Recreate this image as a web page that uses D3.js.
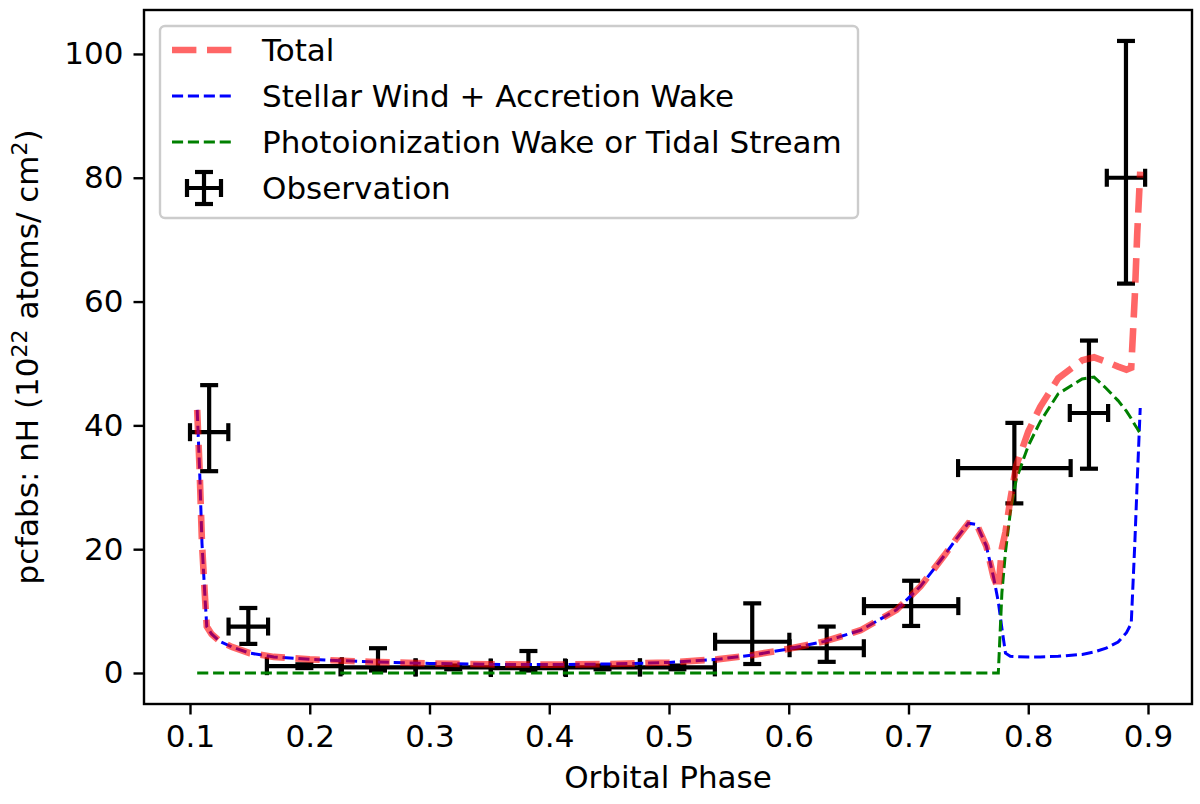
<!DOCTYPE html>
<html>
<head>
<meta charset="utf-8">
<script src="https://cdn.jsdelivr.net/npm/d3@7"></script>
<style>
  html, body { margin: 0; padding: 0; background: #fff; }
  svg { display: block; font-family: "DejaVu Sans", sans-serif; }
</style>
</head>
<body>
<svg id="chart" width="1200" height="804"></svg>
<script>
// model curves, all sampled on the same phase grid
const phase = [0.106, 0.108, 0.110, 0.1125, 0.114, 0.118, 0.125, 0.135, 0.15, 0.17,
  0.2, 0.25, 0.3, 0.35, 0.4, 0.45, 0.5, 0.54, 0.57, 0.6,
  0.63, 0.66, 0.69, 0.71, 0.73, 0.74, 0.75, 0.757, 0.765, 0.771,
  0.775, 0.778, 0.781, 0.785, 0.79, 0.8, 0.81, 0.825, 0.845, 0.855,
  0.865, 0.875, 0.882, 0.886, 0.889, 0.891, 0.8935];

const totalNH = [42.5, 33, 21, 12.3, 7.5, 6.3, 5.1, 4.2, 3.2, 2.6,
  2.2, 1.8, 1.55, 1.4, 1.35, 1.45, 1.7, 2.2, 2.9, 3.9,
  5.1, 6.9, 10.2, 14.0, 19.0, 21.7, 24.2, 24.0, 20.5, 15.5,
  13.5, 20.2, 22.8, 28.0, 33.5, 39.0, 43.0, 47.6, 50.5, 51.0,
  50.3, 49.5, 49.0, 49.3, 61, 71, 81];

const windNH = [42.5, 33, 21, 12.3, 7.5, 6.3, 5.1, 4.2, 3.2, 2.6,
  2.2, 1.8, 1.55, 1.4, 1.35, 1.45, 1.7, 2.2, 2.9, 3.9,
  5.1, 6.9, 10.2, 14.0, 19.0, 21.7, 24.2, 24.0, 20.5, 15.5,
  11.5, 7.2, 3.2, 2.7, 2.65, 2.6, 2.6, 2.7, 3.0, 3.4,
  4.0, 5.0, 6.5, 8.0, 21, 31, 42.8];

const photoNH = [0, 0, 0, 0, 0, 0, 0, 0, 0, 0,
  0, 0, 0, 0, 0, 0, 0, 0, 0, 0,
  0, 0, 0, 0, 0, 0, 0, 0, 0, 0,
  0, 13, 19.6, 25.9, 31.3, 36.7, 40.6, 45.1, 47.5, 47.8,
  46.0, 44.0, 42.3, 41.1, 40.1, 39.5, 38.7];

// observations
const obsPhase    = [0.116, 0.1487, 0.1955, 0.257, 0.3198, 0.3826, 0.4445, 0.507, 0.5695, 0.6317, 0.7022, 0.7884, 0.8507, 0.8816];
const obsPhaseErr = [0.016, 0.0165, 0.0313, 0.0313, 0.0313, 0.0313, 0.0313, 0.0313, 0.031, 0.031, 0.0394, 0.047, 0.016, 0.016];
const obsNH       = [38.9, 7.5, 1.1, 0.9, 0.9, 0.8, 0.9, 0.9, 5.05, 4.0, 10.8, 33.1, 42.0, 80.0];
const obsNHLow    = [6.3, 2.8, 0.3, 0.5, 0.3, 0.4, 0.3, 0.3, 3.6, 2.2, 3.2, 5.7, 9.0, 17.1];
const obsNHHigh   = [7.6, 3.0, 0.3, 3.1, 0.3, 2.75, 0.3, 0.3, 6.2, 3.5, 4.1, 7.3, 11.7, 22.1];

const xTicks = [0.1, 0.2, 0.3, 0.4, 0.5, 0.6, 0.7, 0.8, 0.9];
const yTicks = [0, 20, 40, 60, 80, 100];

const legendLabels = ["Total", "Stellar Wind + Accretion Wake", "Photoionization Wake or Tidal Stream", "Observation"];

const fs = 31;
const box = { left: 144, right: 1192, top: 10, bottom: 704 };

const svg = d3.select("#chart");
svg.append("rect").attr("width", 1200).attr("height", 804).attr("fill", "#fff");

const x = d3.scaleLinear().domain([0.06159, 0.93674]).range([box.left, box.right]);
const y = d3.scaleLinear().domain([-5.01, 107.1]).range([box.bottom, box.top]);

svg.append("clipPath").attr("id", "clip")
  .append("rect")
  .attr("x", box.left).attr("y", box.top)
  .attr("width", box.right - box.left).attr("height", box.bottom - box.top);

const plot = svg.append("g").attr("clip-path", "url(#clip)");

// error bars
const cap = 9;
const eb = plot.append("g").attr("stroke", "#000").attr("stroke-width", 4.2).attr("fill", "none");
obsPhase.forEach((p, i) => {
  const cx = x(p), cy = y(obsNH[i]);
  const x0 = x(p - obsPhaseErr[i]), x1 = x(p + obsPhaseErr[i]);
  const y0 = y(obsNH[i] - obsNHLow[i]), y1 = y(obsNH[i] + obsNHHigh[i]);
  eb.append("line").attr("x1", x0).attr("x2", x1).attr("y1", cy).attr("y2", cy);
  eb.append("line").attr("x1", cx).attr("x2", cx).attr("y1", y0).attr("y2", y1);
  eb.append("line").attr("x1", x0).attr("x2", x0).attr("y1", cy - cap).attr("y2", cy + cap);
  eb.append("line").attr("x1", x1).attr("x2", x1).attr("y1", cy - cap).attr("y2", cy + cap);
  eb.append("line").attr("x1", cx - cap).attr("x2", cx + cap).attr("y1", y0).attr("y2", y0);
  eb.append("line").attr("x1", cx - cap).attr("x2", cx + cap).attr("y1", y1).attr("y2", y1);
});

const line = d3.line().x(d => x(d[0])).y(d => y(d[1]));

const series = [
  { vals: windNH,  color: "#0000ff", width: 3, dash: "11.1,4.8", opacity: 1 },
  { vals: photoNH, color: "#008000", width: 3, dash: "11.1,4.8", opacity: 1 },
  { vals: totalNH, color: "#ff0000", width: 6.6, dash: "24.4,10.6", opacity: 0.6 },
];

series.forEach(s => {
  plot.append("path")
    .datum(phase.map((p, i) => [p, s.vals[i]]))
    .attr("d", line)
    .attr("fill", "none")
    .attr("stroke", s.color)
    .attr("stroke-opacity", s.opacity)
    .attr("stroke-width", s.width)
    .attr("stroke-dasharray", s.dash);
});

// axes
const xAxis = svg.append("g")
  .attr("transform", `translate(0,${box.bottom})`)
  .call(d3.axisBottom(x).tickValues(xTicks).tickFormat(d3.format(".1f")).tickSizeOuter(0).tickSize(10.5).tickPadding(10));
const yAxis = svg.append("g")
  .attr("transform", `translate(${box.left},0)`)
  .call(d3.axisLeft(y).tickValues(yTicks).tickSizeOuter(0).tickSize(10.5).tickPadding(10));

[xAxis, yAxis].forEach(a => {
  a.select(".domain").remove();
  a.selectAll(".tick line").attr("stroke", "#000").attr("stroke-width", 2.4);
  a.selectAll(".tick text").attr("fill", "#000").attr("font-size", fs).attr("font-family", "DejaVu Sans");
});

svg.append("rect")
  .attr("x", box.left).attr("y", box.top)
  .attr("width", box.right - box.left).attr("height", box.bottom - box.top)
  .attr("fill", "none").attr("stroke", "#000").attr("stroke-width", 2.4);

svg.append("text")
  .attr("x", (box.left + box.right) / 2).attr("y", 788)
  .attr("text-anchor", "middle").attr("font-size", fs)
  .text("Orbital Phase");

const yl = svg.append("text")
  .attr("transform", `translate(38,${(box.top + box.bottom) / 2}) rotate(-90)`)
  .attr("text-anchor", "middle").attr("font-size", fs);
yl.append("tspan").text("pcfabs: nH (10");
yl.append("tspan").attr("font-size", 22).attr("dy", -11).text("22");
yl.append("tspan").attr("dy", 11).text(" atoms/ cm");
yl.append("tspan").attr("font-size", 22).attr("dy", -11).text("2");
yl.append("tspan").attr("dy", 11).text(")");

// legend
const lg = svg.append("g");
lg.append("rect")
  .attr("x", 160).attr("y", 26).attr("width", 698).attr("height", 192).attr("rx", 5)
  .attr("fill", "#fff").attr("fill-opacity", 0.8)
  .attr("stroke", "#cccccc").attr("stroke-width", 2.4);

const rowY = [50, 96, 142, 188];
const handleX0 = 172, handleX1 = 232;
[series[2], series[0], series[1]].forEach((s, i) => {
  lg.append("line")
    .attr("x1", handleX0).attr("x2", handleX1)
    .attr("y1", rowY[i]).attr("y2", rowY[i])
    .attr("stroke", s.color).attr("stroke-opacity", s.opacity)
    .attr("stroke-width", s.width).attr("stroke-dasharray", s.dash);
});
{
  const cx = (handleX0 + handleX1) / 2 + 2, cy = rowY[3];
  const g = lg.append("g").attr("stroke", "#000").attr("stroke-width", 4.2);
  g.append("line").attr("x1", cx - 17).attr("x2", cx + 17).attr("y1", cy).attr("y2", cy);
  g.append("line").attr("x1", cx).attr("x2", cx).attr("y1", cy - 16).attr("y2", cy + 16);
  g.append("line").attr("x1", cx - 17).attr("x2", cx - 17).attr("y1", cy - cap).attr("y2", cy + cap);
  g.append("line").attr("x1", cx + 17).attr("x2", cx + 17).attr("y1", cy - cap).attr("y2", cy + cap);
  g.append("line").attr("x1", cx - cap).attr("x2", cx + cap).attr("y1", cy - 16).attr("y2", cy - 16);
  g.append("line").attr("x1", cx - cap).attr("x2", cx + cap).attr("y1", cy + 16).attr("y2", cy + 16);
}
legendLabels.forEach((t, i) => {
  lg.append("text")
    .attr("x", 262).attr("y", rowY[i] + 0.36 * fs)
    .attr("font-size", fs)
    .text(t);
});
</script>
</body>
</html>
